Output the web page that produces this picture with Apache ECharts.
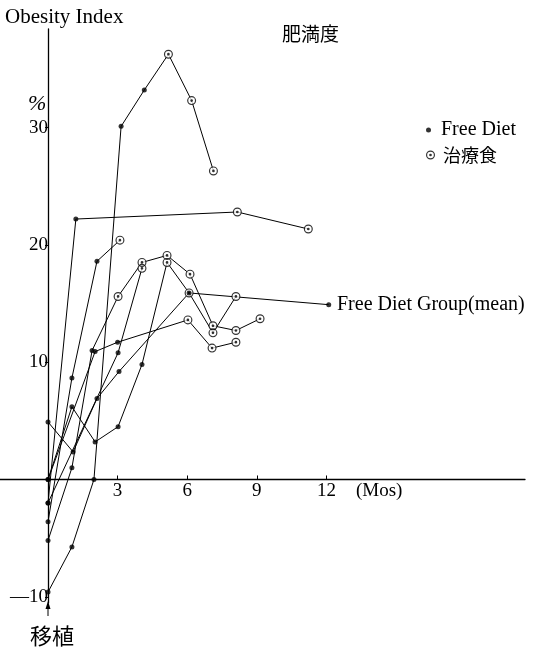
<!DOCTYPE html>
<html><head><meta charset="utf-8">
<script src="https://cdn.jsdelivr.net/npm/echarts@6/dist/echarts.min.js"></script>
<style>html,body{margin:0;padding:0;background:#fff}#c{width:539px;height:649px}</style>
</head><body><div id="c"></div>
<script>
// [month, obesity index %]
const subjectA = [[0,-9.6],[1.03,-5.75],[1.98,0],[3.15,30.1],[4.15,33.2],[5.19,36.25],[6.19,32.3],[7.13,26.3]];
const subjectB = [[0,-2],[1.2,22.2],[8.16,22.8],[11.22,21.35]];
const subjectD = [[0,0],[1.03,6.2],[2.03,3.2],[3.02,4.5],[4.05,9.8],[5.13,18.5],[6.08,15.9],[7.11,12.5],[8.1,15.6]];
const subjectE = [[0,-3.6],[1.03,8.65],[2.11,18.6],[3.1,20.4]];
const subjectF = [[0,-5.2],[1.03,1.0],[1.9,11.0],[3.02,15.6],[4.05,18.5],[5.13,19.1],[6.12,17.5],[7.11,13.1],[8.1,12.7],[9.14,13.7]];
const subjectG = [[0,-2],[3.02,10.8],[4.05,18.0]];
const subjectH = [[0,0],[2.03,10.9],[3.0,11.7],[6.03,13.6],[7.07,11.2],[8.1,11.7]];
// month at which each subject switched to 治療食 (same order as subjects)
const treatmentStart = [5.19, 8.16, 5.13, 3.1, 3.02, 4.05, 6.03];
const meanGroup = [[0,4.9],[1.08,2.35],[2.11,6.9],[3.06,9.2],[6.08,15.9],[12.1,14.9]];
const xTickValues = [3,6,9,12];
const yTickValues = [-10,10,20,30];

const X_MIN = -2.07, X_MAX = 20.56, Y_MIN = -10.53, Y_MAX = 38.4;
const GRID = {left:0, right:14, top:29, bottom:46};
const W = 539, H = 649;
const pxPerX = (W - GRID.left - GRID.right) / (X_MAX - X_MIN);
const pxPerY = (H - GRID.top - GRID.bottom) / (Y_MAX - Y_MIN);

const subjects = [subjectA, subjectB, subjectD, subjectE, subjectF, subjectG, subjectH];
const freePts = [], treatPts = [];
subjects.forEach((s,i)=>s.forEach(p=>{ (p[0] >= treatmentStart[i]-1e-9 ? treatPts : freePts).push(p); }));
meanGroup.forEach(p=>freePts.push(p));

const ring = 'path://M10,0A10,10,0,1,1,10,20A10,10,0,1,1,10,0ZM10,2.6A7.4,7.4,0,1,0,10,17.4A7.4,7.4,0,1,0,10,2.6ZM10,7A3,3,0,1,1,10,13A3,3,0,1,1,10,7Z';
const serif = 'Liberation Serif';
const cjk = 'Noto Sans CJK JP';

const series = subjects.concat([meanGroup]).map(s=>({
  type:'line', data:s, symbol:'none', silent:true, z:1,
  lineStyle:{color:'#000', width:1}
}));
series.push({type:'scatter', name:'bg', data:treatPts, symbol:'circle', symbolSize:8, itemStyle:{color:'#fff'}, z:2, silent:true});
series.push({type:'scatter', name:'治療食', data:treatPts, symbol:ring, symbolSize:9, itemStyle:{color:'#000'}, z:3});
series.push({type:'scatter', name:'Free Diet', data:freePts, symbol:'circle', symbolSize:5, itemStyle:{color:'#000'}, z:4});

const chart = echarts.init(document.getElementById('c'), null, {renderer:'canvas'});
chart.setOption({
  animation:false,
  backgroundColor:'#fff',
  grid:Object.assign({containLabel:false, outerBoundsMode:'none'}, GRID),
  xAxis:{type:'value', min:X_MIN, max:X_MAX, position:'bottom',
    offset: -(0 - Y_MIN) * pxPerY,
    axisLine:{onZero:false, lineStyle:{color:'#000', width:1.3}},
    axisTick:{customValues:xTickValues, inside:true, length:4, lineStyle:{color:'#000'}},
    axisLabel:{customValues:xTickValues, color:'#000', fontFamily:serif, fontSize:19, margin:2},
    splitLine:{show:false}},
  yAxis:{type:'value', min:Y_MIN, max:Y_MAX, position:'left',
    offset: -(0 - X_MIN) * pxPerX,
    axisLine:{onZero:false, lineStyle:{color:'#000', width:1.3}},
    axisTick:{customValues:yTickValues, length:3, lineStyle:{color:'#000'}},
    axisLabel:{customValues:yTickValues, color:'#000', fontFamily:serif, fontSize:19, margin:0,
      formatter:v=> v<0 ? '—'+(-v) : String(v)},
    splitLine:{show:false}},
  legend:[
    {data:[{name:'Free Diet', icon:'circle'}], left:421, top:115, itemWidth:15, itemHeight:5, itemGap:0,
      textStyle:{color:'#000', fontFamily:serif, fontSize:20}},
    {data:[{name:'治療食', icon:ring}], left:421, top:141, itemWidth:15, itemHeight:9, itemGap:0,
      textStyle:{color:'#000', fontFamily:cjk, fontSize:18}}
  ],
  graphic:[
    {type:'text', style:{x:5, y:17, text:'Obesity Index', font:'21px "Liberation Serif"', fill:'#000', verticalAlign:'middle'}},
    {type:'text', style:{x:28, y:104, text:'%', font:'italic 22px "Liberation Serif"', fill:'#000', verticalAlign:'middle'}},
    {type:'text', style:{x:282, y:34, text:'肥満度', font:'19px "Noto Sans CJK JP"', fill:'#000', verticalAlign:'middle'}},
    {type:'text', style:{x:337, y:305, text:'Free Diet Group(mean)', font:'20px "Liberation Serif"', fill:'#000', verticalAlign:'middle'}},
    {type:'text', style:{x:356, y:491, text:'(Mos)', font:'19px "Liberation Serif"', fill:'#000', verticalAlign:'middle'}},
    {type:'text', style:{x:30, y:636, text:'移植', font:'22px "Noto Sans CJK JP"', fill:'#000', verticalAlign:'middle'}},
    {type:'line', shape:{x1:48, y1:616, x2:48, y2:604}, style:{stroke:'#000', lineWidth:1}},
    {type:'polygon', shape:{points:[[48,601],[45.5,609],[50.5,609]]}, style:{fill:'#000'}}
  ],
  series:series
});
</script></body></html>
